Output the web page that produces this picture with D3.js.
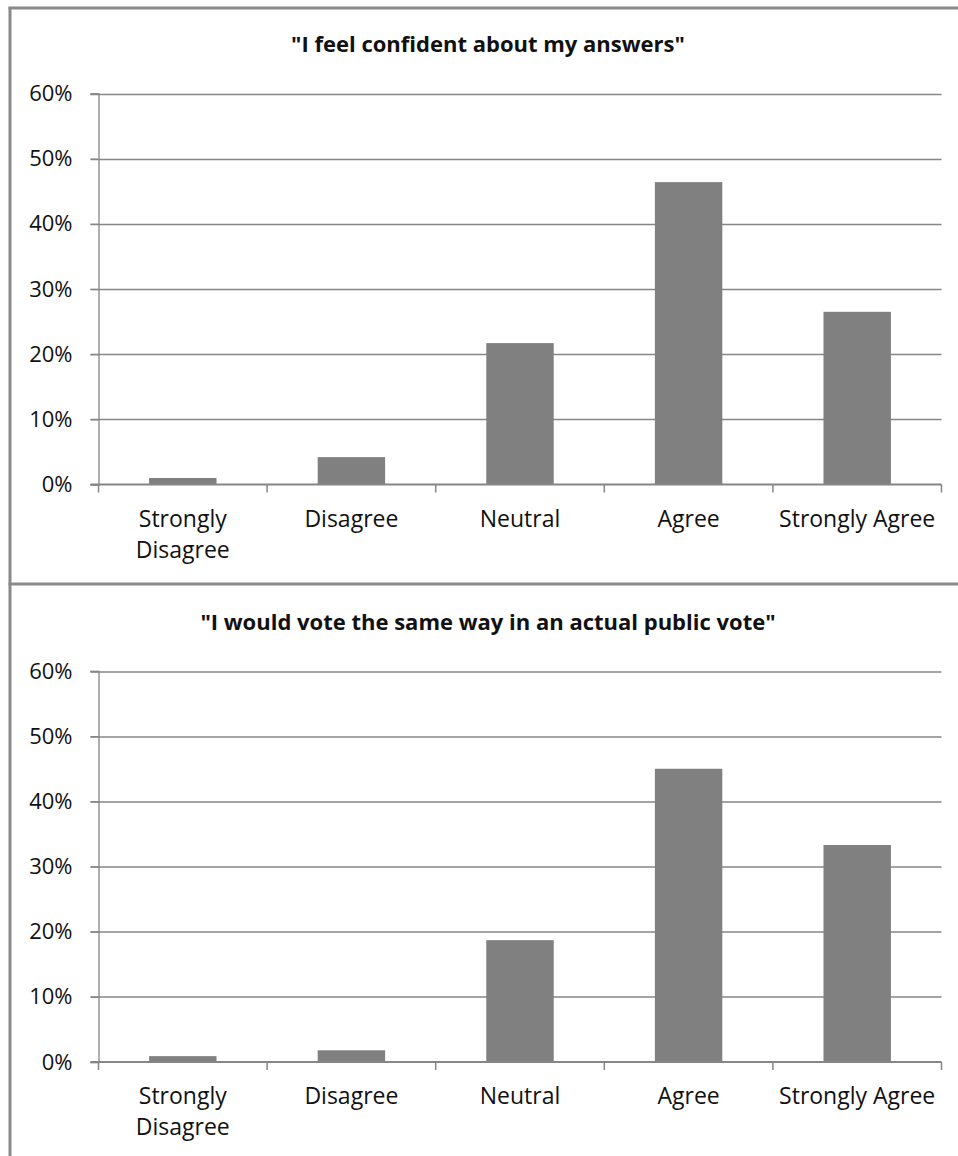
<!DOCTYPE html>
<html>
<head>
<meta charset="utf-8">
<script src="https://cdn.jsdelivr.net/npm/d3@7"></script>
<style>
  html, body { margin: 0; padding: 0; background: #ffffff; }
  svg { display: block; }
</style>
</head>
<body>
<svg id="chart" width="958" height="1156"></svg>
<script>
// ---- data ----
const categories = ["Strongly Disagree", "Disagree", "Neutral", "Agree", "Strongly Agree"];
const categoryLines = [["Strongly", "Disagree"], ["Disagree"], ["Neutral"], ["Agree"], ["Strongly Agree"]];
const confidentValues = [1.0, 4.2, 21.7, 46.4, 26.5];
const voteValues = [0.9, 1.8, 18.7, 45.0, 33.3];
const yTicks = [0, 10, 20, 30, 40, 50, 60];
const titles = ["\"I feel confident about my answers\"", "\"I would vote the same way in an actual public vote\""];

// ---- layout ----
const W = 958, H = 1156;
const FONT = "'Open Sans', Lato, sans-serif";
const gridColor = "#868686";
const barColor = "#808080";
const plotLeft = 98.5, plotRight = 941.5;
const panelOffsets = [0, 577.5];
const plotTop = 93.5, plotBottom = 484.5;

const svg = d3.select("#chart");

// borders
svg.append("rect").attr("x", 0).attr("y", 0).attr("width", W).attr("height", H).attr("fill", "#fff");
const borderColor = "#8a8a8a";
svg.append("line").attr("x1", 10).attr("x2", 10).attr("y1", 7).attr("y2", H).attr("stroke", borderColor).attr("stroke-width", 3);
svg.append("line").attr("x1", 8.5).attr("x2", W).attr("y1", 8).attr("y2", 8).attr("stroke", borderColor).attr("stroke-width", 3);
svg.append("line").attr("x1", 8.5).attr("x2", W).attr("y1", 584).attr("y2", 584).attr("stroke", borderColor).attr("stroke-width", 3);

const x = d3.scaleBand().domain(categories).range([plotLeft, plotRight]).paddingInner(0.6).paddingOuter(0.3);
const y = d3.scaleLinear().domain([0, 60]).range([plotBottom, plotTop]);

const panels = [confidentValues, voteValues];

panels.forEach((vals, pi) => {
  const g = svg.append("g").attr("transform", `translate(0,${panelOffsets[pi]})`);

  // title
  g.append("text")
    .attr("x", 488).attr("y", 52)
    .attr("text-anchor", "middle")
    .attr("font-family", FONT).attr("font-weight", "bold").attr("font-size", 22)
    .attr("fill", "#111")
    .text(titles[pi]);

  // gridlines (including tick stub left of axis)
  g.append("g").selectAll("line").data(yTicks.filter(d => d > 0)).join("line")
    .attr("x1", plotLeft - 8).attr("x2", plotRight)
    .attr("y1", d => Math.round(y(d)) + 0.5).attr("y2", d => Math.round(y(d)) + 0.5)
    .attr("stroke", gridColor).attr("stroke-width", 1.3);

  // y axis
  const yAxis = d3.axisLeft(y).tickValues(yTicks).tickFormat(d => d + "%").tickSize(8).tickPadding(18);
  const ya = g.append("g").attr("transform", `translate(${plotLeft},0)`).call(yAxis);
  ya.select(".domain").attr("stroke", gridColor).attr("stroke-width", 1.3);
  ya.selectAll(".tick line").attr("stroke", gridColor).attr("stroke-width", 1.3);
  ya.selectAll(".tick text").attr("font-family", FONT).attr("font-size", 22).attr("fill", "#111");

  // bars
  g.append("g").selectAll("rect").data(vals).join("rect")
    .attr("x", (d, i) => x(categories[i]))
    .attr("width", x.bandwidth())
    .attr("y", d => y(d))
    .attr("height", d => y(0) - y(d))
    .attr("fill", barColor);

  // x axis baseline and boundary ticks
  g.append("line").attr("x1", plotLeft - 8).attr("x2", plotRight)
    .attr("y1", y(0)).attr("y2", y(0)).attr("stroke", gridColor).attr("stroke-width", 2);
  const bounds = d3.range(categories.length + 1).map(i => plotLeft + i * x.step());
  g.append("g").selectAll("line").data(bounds).join("line")
    .attr("x1", d => d).attr("x2", d => d)
    .attr("y1", y(0)).attr("y2", y(0) + 8)
    .attr("stroke", gridColor).attr("stroke-width", 1.5);

  // category labels
  const labels = g.append("g").selectAll("text").data(categories).join("text")
    .attr("text-anchor", "middle")
    .attr("font-family", FONT).attr("font-size", 23).attr("fill", "#111")
    .attr("x", d => x(d) + x.bandwidth() / 2)
    .attr("y", y(0) + 42);
  labels.each(function(d, i) {
    const t = d3.select(this);
    categoryLines[i].forEach((line, li) => {
      t.append("tspan").attr("x", x(d) + x.bandwidth() / 2).attr("dy", li === 0 ? 0 : 31).text(line);
    });
  });
});
</script>
</body>
</html>
